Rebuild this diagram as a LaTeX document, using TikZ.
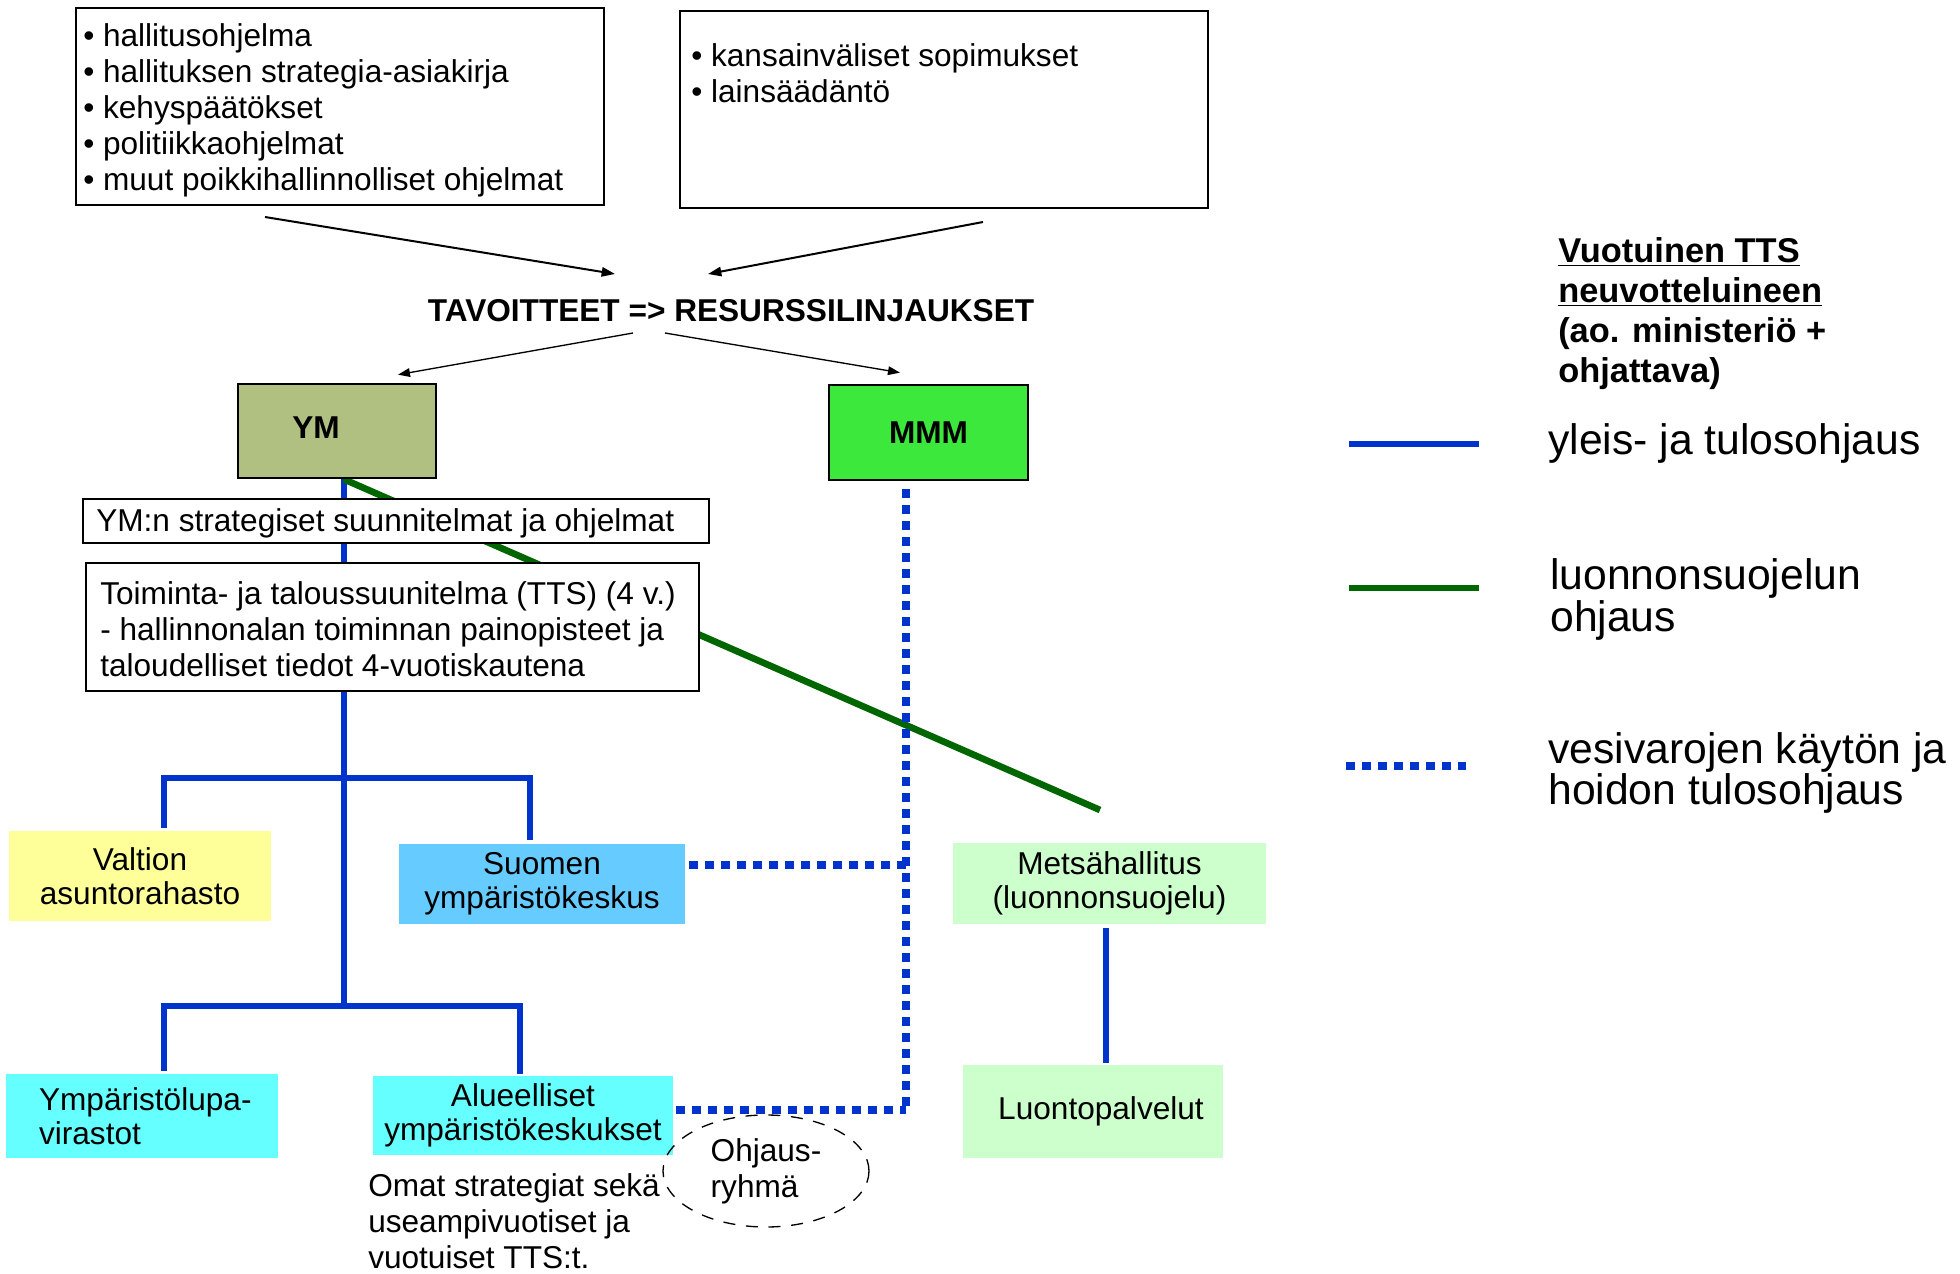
\documentclass[tikz,border=0pt]{standalone}
\usepackage{fontspec}
\setmainfont{Liberation Sans}
\usetikzlibrary{arrows.meta,backgrounds,shapes.geometric,calc}
\definecolor{ymfill}{RGB}{176,192,128}
\definecolor{mmmfill}{RGB}{61,232,61}
\definecolor{lblue}{RGB}{0,51,204}
\definecolor{dgreen}{RGB}{0,102,0}
\definecolor{skyb}{RGB}{102,204,255}
\definecolor{cyanb}{RGB}{102,255,255}
\definecolor{lgreen}{RGB}{204,255,204}
\definecolor{lyellow}{RGB}{255,255,153}
\tikzset{
  maintext/.style={font=\fontsize{23.7}{27}\selectfont, text=black},
  legtext/.style={font=\fontsize{32}{30.5}\selectfont, text=black, align=left, anchor=west, inner sep=0pt},
  framebox/.style={draw=black, line width=1.5pt, fill=white, inner sep=0pt},
  minbox/.style={draw=black, line width=2pt, inner sep=0pt},
  colbox/.style={maintext, inner sep=0pt, align=center, font=\fontsize{23.7}{25.5}\selectfont},
  txt/.style={maintext, align=left, anchor=west, inner sep=0pt},
  blueline/.style={draw=lblue, line width=4.8pt},
  greenline/.style={draw=dgreen, line width=5pt},
  dotline/.style={draw=lblue, line width=6.5pt, dash pattern=on 6.5pt off 5.5pt},
  arr/.style={-{Triangle[length=10pt,width=7pt]}, line width=1.5pt},
  tarr/.style={-{Triangle[length=9pt,width=6.5pt]}, line width=1pt},
}
\begin{document}
\begin{tikzpicture}[x=0.75pt,y=-0.75pt]
\path[use as bounding box] (0,0) rectangle (1960,1274);

% top boxes
\node[framebox, minimum width=396pt, minimum height=147.75pt] (gov) at (340,106.5) {};
\node[txt] (govtxt) at (83,110.5) {• hallitusohjelma\\• hallituksen strategia-asiakirja\\• kehyspäätökset\\• politiikkaohjelmat\\• muut poikkihallinnolliset ohjelmat};
\node[framebox, minimum width=396pt, minimum height=147.75pt] (law) at (944,109.5) {};
\node[txt] (lawtxt) at (691,73.5) {• kansainväliset sopimukset\\• lainsäädäntö};

% title
\node[maintext, font=\fontsize{23.7}{27}\selectfont\bfseries, inner sep=0pt] (title) at (731,311) {TAVOITTEET => RESURSSILINJAUKSET};

% ministries
\node[minbox, fill=ymfill, minimum width=148.5pt, minimum height=70.5pt] (YM) at (337,431) {};
\node[maintext, font=\fontsize{23.7}{27}\selectfont\bfseries, inner sep=0pt] (ymlab) at (316,428) {YM};
\node[minbox, fill=mmmfill, minimum width=149.25pt, minimum height=71.25pt, maintext, font=\fontsize{23.7}{27}\selectfont\bfseries] (MMM) at (928.5,432.5) {MMM};

% strategy boxes
\node[framebox, minimum width=469.5pt, minimum height=33pt] (strat) at (396,521) {};
\node[txt] (strattxt) at (96,523) {YM:n strategiset suunnitelmat ja ohjelmat};
\node[framebox, minimum width=459.75pt, minimum height=96pt] (tts) at (392.5,627) {};
\node[txt] (ttstxt) at (100,629) {Toiminta- ja taloussuunitelma (TTS) (4 v.)\\- hallinnonalan toiminnan painopisteet ja\\taloudelliset tiedot 4-vuotiskautena};

% coloured agencies
\node[colbox, fill=lyellow, minimum width=196.5pt, minimum height=67.5pt] (Valtion) at (140,876) {Valtion\\asuntorahasto};
\node[colbox, fill=skyb, minimum width=214.5pt, minimum height=60pt] (Suomen) at (542,884) {Suomen\\ympäristökeskus};
\node[colbox, fill=lgreen, minimum width=234.75pt, minimum height=60.75pt] (Mets) at (1109.5,883.5) {Metsähallitus\\(luonnonsuojelu)};
\node[colbox, fill=lgreen, minimum width=195pt, minimum height=69.75pt] (Luonto) at (1093,1111.5) {\hspace*{12pt}Luontopalvelut};
\node[colbox, align=left, fill=cyanb, minimum width=204pt, minimum height=63pt] (Ymp) at (142,1116) {\hspace*{5pt}Ympäristölupa-\\\hspace*{5pt}virastot};
\node[colbox, fill=cyanb, minimum width=225pt, minimum height=59.25pt] (Alu) at (523,1115.5) {Alueelliset\\ympäristökeskukset};

\node[txt] (omat) at (368,1221) {Omat strategiat sekä\\useampivuotiset ja\\vuotuiset TTS:t.};
\node[ellipse, draw=black, line width=1pt, dash pattern=on 9pt off 8pt, minimum width=154.5pt, minimum height=84pt, maintext, align=left, inner sep=0pt] (ohj) at (766,1171) {Ohjaus-\\ryhmä};

% coordinates
\coordinate (j1) at (344,778);
\coordinate (j2) at (344,1006);
\coordinate (b1L) at (164,778);
\coordinate (b1R) at (530,778);
\coordinate (b2L) at (164,1006);
\coordinate (b2R) at (520,1006);
\coordinate (gEnd) at (1100,810);
\coordinate (d1) at (906,865);
\coordinate (d2) at (906,1110);
\coordinate (mv) at (1106,0);

\begin{scope}[on background layer]
  \fill[white] (0,0) rectangle (1960,1274);
  \draw[blueline] (YM.south -| j1) -- (j2);
  \draw[blueline, line join=miter] ($(b1L |- Valtion.north)+(0,-3)$) -- (b1L) -- (b1R) -- ($(b1R |- Suomen.north)+(0,-4)$);
  \draw[blueline, line join=miter] ($(b2L |- Ymp.north)+(0,-3)$) -- (b2L) -- (b2R) -- ($(b2R |- Alu.north)+(0,-2)$);
  \draw[greenline] (YM.south -| j1) -- (gEnd);
\end{scope}
\draw[dotline] ($(MMM.south -| d1)+(0,8)$) -- (d2);
\draw[dotline] ($(Suomen.east |- d1)+(4,0)$) -- (d1);
\draw[dotline] ($(Alu.east |- d2)+(3,0)$) -- (d2);
\draw[blueline] ($(Mets.south -| mv)+(0,4)$) -- ($(Luonto.north -| mv)+(0,-2)$);

% arrows
\draw[arr] ($(gov.south)+(-75,11)$) -- ($(title.center)+(-116,-37)$);
\draw[arr] ($(law.south)+(39,13)$) -- ($(title.center)+(-23,-37)$);
\draw[tarr] ($(title.center)+(-98,22)$) -- ($(YM.north)+(61,-8)$);
\draw[tarr] ($(title.center)+(-66,22)$) -- ($(MMM.north)+(-28.5,-11)$);

% legend
\node[inner sep=0pt, anchor=west, align=left, font=\fontsize{25.8}{30}\selectfont\bfseries] (legtitle) at (1558,314) {\underline{Vuotuinen TTS}\\\underline{neuvotteluineen}\\(ao. ministeriö +\\ohjattava)};
\coordinate (l1a) at (1349,444);
\coordinate (l1b) at (1479,444);
\coordinate (l2a) at (1349,588);
\coordinate (l2b) at (1479,588);
\coordinate (l3a) at (1346,766);
\coordinate (l3b) at (1466,766);
\draw[blueline] (l1a) -- (l1b);
\draw[greenline] (l2a) -- (l2b);
\draw[dotline] (l3a) -- (l3b);
\node[legtext] (leg1) at (1548,443) {yleis- ja tulosohjaus};
\node[legtext, font=\fontsize{32}{31.5}\selectfont] (leg2) at (1550,599) {luonnonsuojelun\\ohjaus};
\node[legtext] (leg3) at (1548,773) {vesivarojen käytön ja\\hoidon tulosohjaus};
\end{tikzpicture}
\end{document}
